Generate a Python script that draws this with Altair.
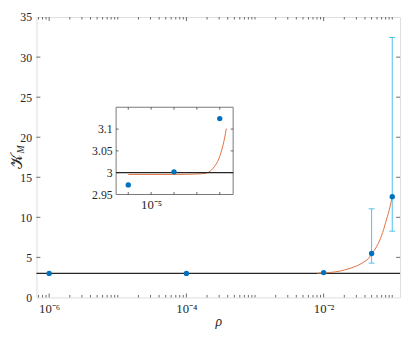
import altair as alt
import pandas as pd

# ---------------- data ----------------
rho = [1e-6, 1e-4, 1e-2, 0.05, 0.1]
K = [3.0, 3.0, 3.1, 5.48, 12.58]
err_rho = [0.05, 0.1]
err_lo = [4.28, 8.27]
err_hi = [11.06, 32.45]
curve_rho = [0.008, 0.01, 0.0125, 0.015, 0.0175, 0.02, 0.025, 0.03, 0.035, 0.04, 0.045,
             0.05, 0.055, 0.06, 0.065, 0.07, 0.075, 0.08, 0.085, 0.09, 0.095, 0.1]
curve_K = [3.02, 3.05, 3.12, 3.2, 3.3, 3.42, 3.66, 3.92, 4.2, 4.52, 4.84,
           5.42, 5.9, 6.45, 7.05, 7.75, 8.5, 9.35, 10.1, 10.85, 11.7, 12.58]
baseline = [3.0]

inset_rho = [1e-6, 1e-4, 1e-2]
inset_K = [2.972, 3.002, 3.124]
inset_curve_rho = [1e-6, 1e-4, 1e-3, 0.0025, 0.0037, 0.0049, 0.0068, 0.0093, 0.0115, 0.0139,
                   0.0165, 0.0194]
inset_curve_K = [2.996, 2.996, 2.997, 2.999, 3.003, 3.009, 3.019, 3.033, 3.047, 3.063,
                 3.081, 3.101]

x_domain = [6.52e-7, 0.130]
y_domain = [0, 35]
ix_domain = [2.94e-7, 0.0386]
iy_domain = [2.95, 3.15]

x_major = [1e-6, 1e-4, 1e-2]
x_minor = [k * 10.0 ** d for d in range(-7, 0) for k in range(1, 10)
           if x_domain[0] < k * 10.0 ** d < x_domain[1] and (k * 10.0 ** d) not in x_major]
y_ticks = [0, 5, 10, 15, 20, 25, 30, 35]
inset_x_ticks = [1e-6, 1e-5, 1e-4, 1e-3, 1e-2]
inset_y_ticks = [2.95, 3.0, 3.05, 3.1]

# ---------------- style ----------------
W, H = 371, 286
PT = 6
FONT = "Liberation Serif"
AX = "#262626"
FRAME = "#777777"
ORANGE = "#E0703F"
I_TOP, I_BOT = 106 - 8 - PT, 195 - 8 - PT

xs = alt.Scale(type="log", domain=x_domain, nice=False)
ys = alt.Scale(domain=y_domain, nice=False, zero=False)
ixs = alt.Scale(type="log", domain=ix_domain, range=[81.3, 200.7], nice=False)
iys = alt.Scale(domain=iy_domain, range=[I_BOT, I_TOP], nice=False, zero=False)

xaxis = alt.Axis(values=x_major, ticks=False, domain=False, grid=False,
                 labelExpr="datum.value < 1e-5 ? '10⁻⁶' : (datum.value < 1e-3 ? '10⁻⁴' : '10⁻²')",
                 labelFont=FONT, labelFontSize=13, labelColor=AX, labelPadding=5,
                 title="ρ", titleFont=FONT, titleFontStyle="italic", titleFontWeight="normal",
                 titleFontSize=14, titleColor=AX, titlePadding=0)
yaxis = alt.Axis(values=y_ticks, ticks=False, domain=False, grid=False, format="d",
                 labelFont=FONT, labelFontSize=12, labelColor=AX, labelPadding=5, title=None)

ixaxis = alt.Axis(values=[1e-5], orient="bottom", offset=-(H - I_BOT), ticks=False, domain=False,
                  grid=False, labelExpr="'10⁻⁵'", labelFont=FONT, labelFontSize=13,
                  labelColor=AX, labelPadding=4, title=None)
iyaxis = alt.Axis(values=inset_y_ticks, orient="left", offset=-81.3, ticks=False, domain=False,
                  grid=False, format="~g", labelFont=FONT, labelFontSize=12, labelColor=AX,
                  labelPadding=4, title=None)

df_pts = pd.DataFrame({"rho": rho, "K": K})
df_err = pd.DataFrame({"rho": err_rho, "lo": err_lo, "hi": err_hi})
df_curve = pd.DataFrame({"rho": curve_rho, "K": curve_K})
df_base = pd.DataFrame({"K": baseline})
df_xmaj = pd.DataFrame({"v": x_major})
df_xmin = pd.DataFrame({"v": x_minor})
df_yt = pd.DataFrame({"v": y_ticks[1:-1]})

X = lambda f: alt.X(f, type="quantitative", scale=xs, axis=xaxis)
Y = lambda f: alt.Y(f, type="quantitative", scale=ys, axis=yaxis)

base_rule = alt.Chart(df_base).mark_rule(color=AX, strokeWidth=1.3).encode(y=Y("K"))
curve = alt.Chart(df_curve).mark_line(color=ORANGE, strokeWidth=1, interpolate="monotone").encode(
    x=X("rho"), y=Y("K"), order="rho:Q")
err = alt.Chart(df_err).mark_rule(color="#4DBEEE", strokeWidth=1).encode(
    x=X("rho"), y=Y("lo"), y2="hi")
cap_lo = alt.Chart(df_err).mark_rule(color="#4DBEEE", strokeWidth=1, xOffset=-3, x2Offset=3).encode(
    x=X("rho"), x2="rho", y=Y("lo"))
cap_hi = alt.Chart(df_err).mark_rule(color="#4DBEEE", strokeWidth=1, xOffset=-3, x2Offset=3).encode(
    x=X("rho"), x2="rho", y=Y("hi"))
pts = alt.Chart(df_pts).mark_circle(color="#0072BD", size=30, opacity=1).encode(x=X("rho"), y=Y("K"))


def xticks(df, length):
    bot = alt.Chart(df).mark_rule(color=AX, strokeWidth=0.7, y2Offset=-length).encode(
        x=X("v"), y=alt.YDatum(y_domain[0], scale=ys, axis=yaxis), y2=alt.datum(y_domain[0]))
    top = alt.Chart(df).mark_rule(color=AX, strokeWidth=0.7, y2Offset=length).encode(
        x=X("v"), y=alt.YDatum(y_domain[1], scale=ys, axis=yaxis), y2=alt.datum(y_domain[1]))
    return [bot, top]


ytick_l = alt.Chart(df_yt).mark_rule(color=AX, strokeWidth=0.7, x2Offset=4).encode(
    y=Y("v"), x=alt.XDatum(x_domain[0], scale=xs, axis=xaxis), x2=alt.datum(x_domain[0]))
ytick_r = alt.Chart(df_yt).mark_rule(color=AX, strokeWidth=0.7, x2Offset=-4).encode(
    y=Y("v"), x=alt.XDatum(x_domain[1], scale=xs, axis=xaxis), x2=alt.datum(x_domain[1]))

ylab_K = alt.Chart(pd.DataFrame({"t": ["𝒦"]})).mark_text(
    angle=270, font=FONT, fontSize=16, color=AX, baseline="middle", align="center").encode(
    text="t:N", x=alt.value(-20), y=alt.value(147))
ylab_M = alt.Chart(pd.DataFrame({"t": ["M"]})).mark_text(
    angle=270, font=FONT, fontSize=10, fontStyle="italic", color=AX, baseline="middle",
    align="center").encode(text="t:N", x=alt.value(-16), y=alt.value(135))

main = alt.layer(base_rule, curve, err, cap_lo, cap_hi, pts,
                 *xticks(df_xmaj, 4), *xticks(df_xmin, 2.5), ytick_l, ytick_r, ylab_K, ylab_M)

# ---------------- inset ----------------
df_ipts = pd.DataFrame({"rho": inset_rho, "K": inset_K})
df_icurve = pd.DataFrame({"rho": inset_curve_rho, "K": inset_curve_K})
df_ixt = pd.DataFrame({"v": inset_x_ticks})
df_iyt = pd.DataFrame({"v": inset_y_ticks[1:]})

IX = lambda f: alt.X(f, type="quantitative", scale=ixs, axis=ixaxis)
IY = lambda f: alt.Y(f, type="quantitative", scale=iys, axis=iyaxis)

frame = alt.Chart(pd.DataFrame({"a": [0]})).mark_rect(
    fill="white", stroke=FRAME, strokeWidth=1).encode(
    x=alt.XDatum(ix_domain[0], scale=ixs, axis=ixaxis), x2=alt.datum(ix_domain[1]),
    y=alt.YDatum(iy_domain[0], scale=iys, axis=iyaxis), y2=alt.datum(iy_domain[1]))
icurve = alt.Chart(df_icurve).mark_line(color=ORANGE, strokeWidth=1, interpolate="monotone").encode(
    x=IX("rho"), y=IY("K"), order="rho:Q")
ibase = alt.Chart(pd.DataFrame({"K": baseline})).mark_rule(color=AX, strokeWidth=1.3).encode(
    y=IY("K"), x=alt.XDatum(ix_domain[0], scale=ixs, axis=ixaxis), x2=alt.datum(ix_domain[1]))
ipts = alt.Chart(df_ipts).mark_circle(color="#0072BD", size=30, opacity=1).encode(
    x=IX("rho"), y=IY("K"))
ixt_b = alt.Chart(df_ixt).mark_rule(color=AX, strokeWidth=0.7, y2Offset=-2.5).encode(
    x=IX("v"), y=alt.YDatum(iy_domain[0], scale=iys, axis=iyaxis), y2=alt.datum(iy_domain[0]))
ixt_t = alt.Chart(df_ixt).mark_rule(color=AX, strokeWidth=0.7, y2Offset=2.5).encode(
    x=IX("v"), y=alt.YDatum(iy_domain[1], scale=iys, axis=iyaxis), y2=alt.datum(iy_domain[1]))
iyt_l = alt.Chart(df_iyt).mark_rule(color=AX, strokeWidth=0.7, x2Offset=2.5).encode(
    y=IY("v"), x=alt.XDatum(ix_domain[0], scale=ixs, axis=ixaxis), x2=alt.datum(ix_domain[0]))
iyt_r = alt.Chart(df_iyt).mark_rule(color=AX, strokeWidth=0.7, x2Offset=-2.5).encode(
    y=IY("v"), x=alt.XDatum(ix_domain[1], scale=ixs, axis=ixaxis), x2=alt.datum(ix_domain[1]))

inset = alt.layer(frame, icurve, ibase, ipts, ixt_b, ixt_t, iyt_l, iyt_r)

chart = alt.layer(main, inset).resolve_scale(x="independent", y="independent").properties(
    width=W, height=H, autosize="none",
    padding={"left": 29, "top": PT, "right": 4, "bottom": 31},
).configure_view(stroke=FRAME, strokeWidth=1).configure(background="white")

chart.save("out.html", embed_options={"renderer": "svg", "actions": False})
